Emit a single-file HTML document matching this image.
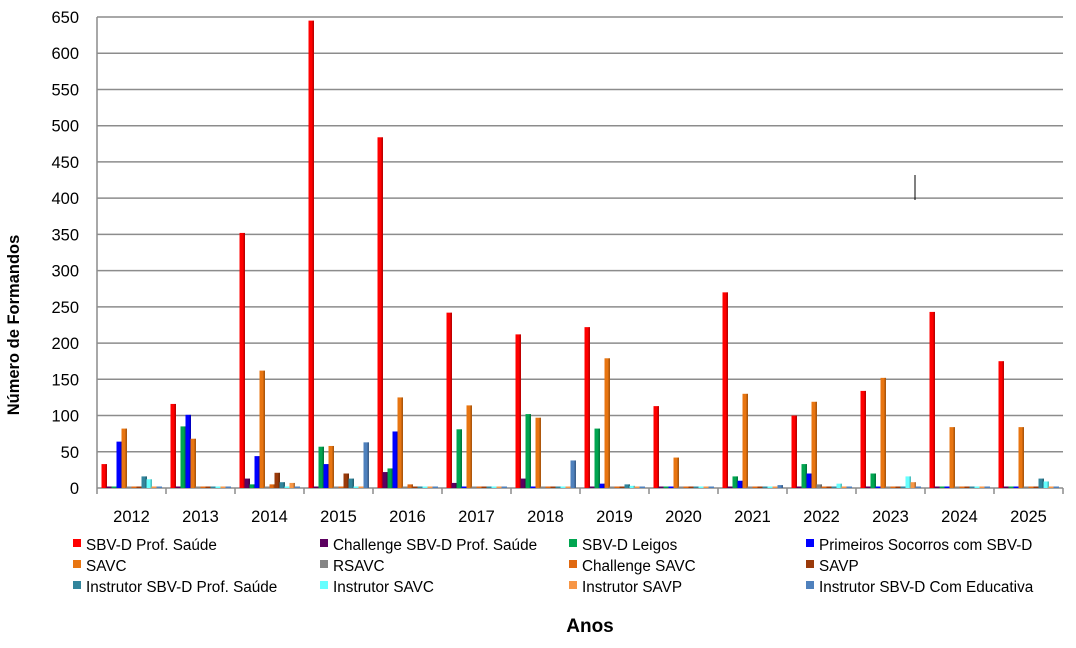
<!DOCTYPE html>
<html><head><meta charset="utf-8"><style>
html,body{margin:0;padding:0;background:#fff;}
svg{display:block;font-family:"Liberation Sans",Arial,sans-serif;}
</style></head><body>
<svg id="c" width="1076" height="648" viewBox="0 0 1076 648" xmlns="http://www.w3.org/2000/svg">
<rect width="1076" height="648" fill="#fff"/>
<g id="grid"></g>
<g id="bars"></g>
<line x1="915" y1="175" x2="915" y2="200" stroke="#000" stroke-width="1"/>
<text x="590" y="632" font-size="19" font-weight="bold" text-anchor="middle">Anos</text>
<text transform="translate(19,325) rotate(-90)" font-size="16.5" font-weight="bold" text-anchor="middle">Número de Formandos</text>
<g id="legend" font-size="15.3"></g>
</svg>
<script>
const NS="http://www.w3.org/2000/svg";
function el(p,t,a,txt){const e=document.createElementNS(NS,t);for(const k in a)e.setAttribute(k,a[k]);if(txt!==undefined)e.textContent=txt;p.appendChild(e);return e;}
const g=document.getElementById('grid'),b=document.getElementById('bars'),L=document.getElementById('legend');
const x0=97,x1=1063,yb=488,s=471/650,gw=69;
for(let v=0;v<=650;v+=50){const y=yb-v*s;el(g,'line',{x1:x0,x2:x1,y1:y,y2:y,stroke:'#8c8c8c','stroke-width':1.5});
el(g,'text',{x:79,y:y+6,'font-size':16.5,'text-anchor':'end'},v);}
el(g,'line',{x1:x0,x2:x0,y1:17,y2:yb+6,stroke:'#8c8c8c','stroke-width':1.5});
const years=[2012,2013,2014,2015,2016,2017,2018,2019,2020,2021,2022,2023,2024,2025];
years.forEach((yr,i)=>{const x=x0+i*gw;el(g,'line',{x1:x+gw,x2:x+gw,y1:yb,y2:yb+6,stroke:'#8c8c8c','stroke-width':1.5});
el(g,'text',{x:x+gw/2,y:522,'font-size':16.5,'text-anchor':'middle'},yr);});
const cols=['#ff0000','#5c0060','#00a550','#0000ff','#e87511','#858585','#e06810','#9a3a0a','#31859c','#66ffff','#f79646','#4f81bd'];
const data=[
[33,0,0,64,82,0,0,0,16,12,0,0],
[116,0,85,101,68,0,0,0,0,0,0,0],
[352,13,5,44,162,0,5,21,8,0,7,0],
[645,0,57,33,58,0,0,20,13,0,0,63],
[484,22,27,78,125,0,5,0,0,0,0,0],
[242,7,81,0,114,0,0,0,0,0,0,0],
[212,13,102,0,97,0,2,0,0,0,0,38],
[222,0,82,6,179,0,0,0,5,3,0,0],
[113,0,0,0,42,0,0,0,0,0,0,0],
[270,0,16,10,130,0,0,0,0,0,0,4],
[100,0,33,20,119,5,0,0,0,6,0,0],
[134,0,20,0,152,0,0,0,0,16,8,0],
[243,0,0,0,84,0,0,0,0,0,0,0],
[175,0,0,0,84,0,0,0,13,9,0,0]];
data.forEach((row,i)=>{row.forEach((v,j)=>{const x=x0+i*gw+4.5+j*5;const h=Math.max(v*s,1.5);
el(b,'rect',{x:x,y:yb-h,width:5.5,height:h,fill:cols[j]});
if(v>2)el(b,'rect',{x:x+4,y:yb-h,width:1.5,height:h,fill:'rgba(0,0,0,0.25)'});});});
const names=['SBV-D Prof. Saúde','Challenge SBV-D Prof. Saúde','SBV-D Leigos','Primeiros Socorros com SBV-D','SAVC','RSAVC','Challenge SAVC','SAVP','Instrutor SBV-D Prof. Saúde','Instrutor SAVC','Instrutor SAVP','Instrutor SBV-D Com Educativa'];
const lx=[73,320,569,806];
names.forEach((n,k)=>{const r=Math.floor(k/4),c=k%4;const y=545+r*21;
el(L,'rect',{x:lx[c],y:y-6,width:8,height:8,fill:cols[k]});
el(L,'text',{x:lx[c]+13,y:y+5},n);});
</script>
</body></html>
